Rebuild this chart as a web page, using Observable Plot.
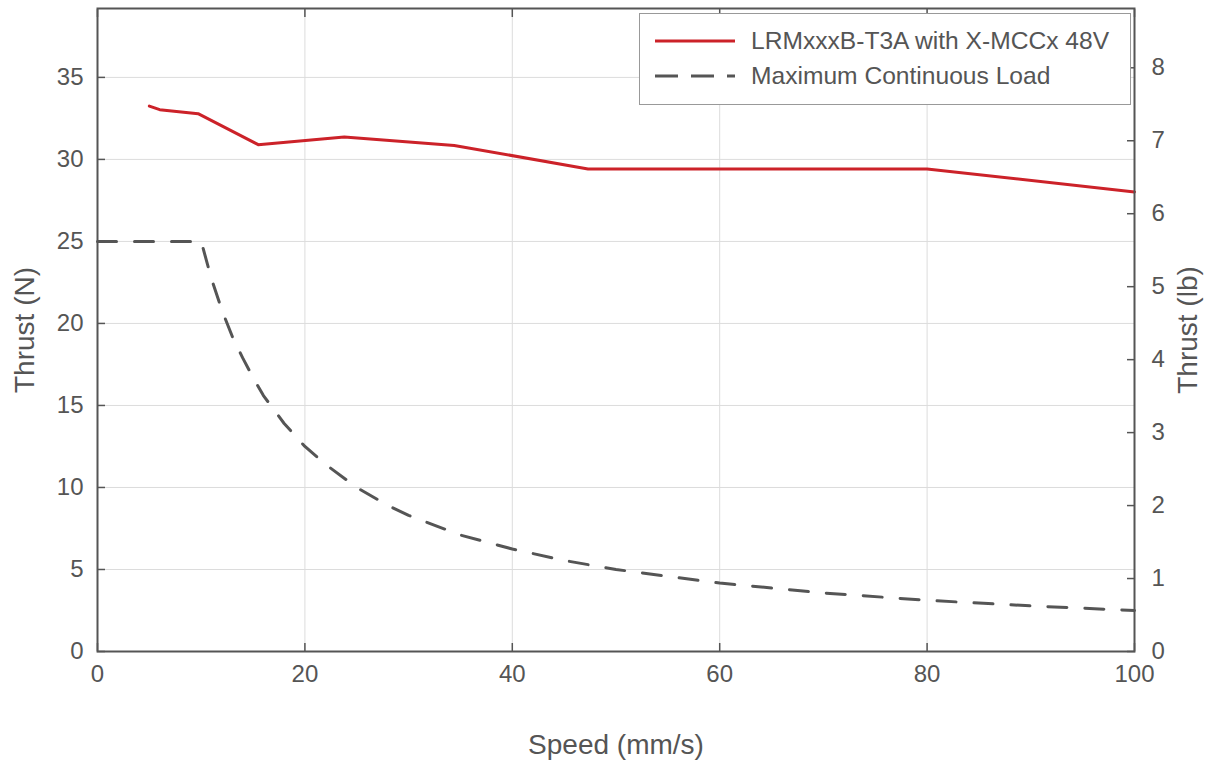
<!DOCTYPE html>
<html>
<head>
<meta charset="utf-8">
<script src="https://cdn.jsdelivr.net/npm/d3@7"></script>
<script src="https://cdn.jsdelivr.net/npm/@observablehq/plot@0.6"></script>
<style>
  html, body { margin: 0; padding: 0; background: #fff; }
  #wrap { position: relative; width: 1214px; height: 767px; font-family: "Liberation Sans", Arial, sans-serif; color: #555; }
  #legend { position: absolute; left: 639px; top: 13px; width: 492px; height: 92px; border: 1.5px solid #999; background: #fff; box-sizing: border-box; }
  .row { position: absolute; left: 0; height: 30px; display: flex; align-items: center; font-size: 24.6px; white-space: nowrap; }
  .row svg { margin-left: 15px; margin-right: 16px; }
</style>
</head>
<body>
<div id="wrap"></div>
<script>
const speedRed = [5, 6, 9.7, 15.5, 23.8, 34.4, 47.3, 80, 100];
const thrustRed = [33.25, 33.03, 32.79, 30.9, 31.36, 30.85, 29.42, 29.42, 28.02];
const speedDash = [0, 10, 11, 12, 13, 14, 15, 16, 18, 20, 22, 25, 28, 30, 35, 40, 45, 50, 60, 70, 80, 90, 100];
const thrustDash = [25, 25, 22.7, 20.8, 19.2, 17.9, 16.7, 15.6, 13.9, 12.5, 11.4, 10, 8.9, 8.3, 7.1, 6.25, 5.55, 5, 4.17, 3.57, 3.12, 2.78, 2.5];
const xTicks = [0, 20, 40, 60, 80, 100];
const yTicks = [0, 5, 10, 15, 20, 25, 30, 35];
const lbTicks = [0, 1, 2, 3, 4, 5, 6, 7, 8];
const N_PER_LB = 4.44822;
const seriesNames = ["LRMxxxB-T3A with X-MCCx 48V", "Maximum Continuous Load"];
const redColor = "#cc2229";
const dashColor = "#555555";

const red = speedRed.map((x, i) => ({x, y: thrustRed[i]}));
const dash = speedDash.map((x, i) => ({x, y: thrustDash[i]}));

const chart = Plot.plot({
  width: 1214,
  height: 767,
  marginLeft: 97,
  marginRight: 80,
  marginTop: 8,
  marginBottom: 116,
  x: {domain: [0, 100]},
  y: {domain: [0, 39.2]},
  style: {fontFamily: "'Liberation Sans', Arial, sans-serif", color: "#555", background: "white", overflow: "visible"},
  marks: [
    Plot.gridY(yTicks.filter(v => v > 0), {stroke: "#dcdcdc", strokeOpacity: 1, strokeWidth: 1}),
    Plot.gridX(xTicks.filter(v => v > 0 && v < 100), {stroke: "#dcdcdc", strokeOpacity: 1, strokeWidth: 1}),
    Plot.line(dash, {x: "x", y: "y", stroke: dashColor, strokeWidth: 3, strokeDasharray: "19,18"}),
    Plot.line(red, {x: "x", y: "y", stroke: redColor, strokeWidth: 3}),
    Plot.axisY({ticks: yTicks, tickSize: 8, dx: 8, tickPadding: 14, fontSize: 24, label: null, stroke: "#555", strokeWidth: 1.5}),
    Plot.axisY({anchor: "right", ticks: lbTicks.map(v => v * N_PER_LB), tickFormat: d => String(Math.round(d / N_PER_LB)), tickSize: 8, dx: -8, tickPadding: 17, fontSize: 24, label: null, stroke: "#555", strokeWidth: 1.5}),
    Plot.axisX({ticks: xTicks, tickSize: 8, dy: -8, tickPadding: 13, fontSize: 24, label: null, stroke: "#555", strokeWidth: 1.5}),
    Plot.axisX({anchor: "top", ticks: xTicks, tickSize: 8, dy: 8, tickFormat: () => "", label: null, stroke: "#555", strokeWidth: 1.5}),
    Plot.frame({stroke: "#555", strokeWidth: 2}),
    Plot.text(["Thrust (N)"], {frameAnchor: "left", dx: -72, rotate: -90, textAnchor: "middle", lineAnchor: "middle", fontSize: 28, fill: "#555"}),
    Plot.text(["Thrust (lb)"], {frameAnchor: "right", dx: 54, rotate: -90, textAnchor: "middle", lineAnchor: "middle", fontSize: 28, fill: "#555"}),
    Plot.text(["Speed (mm/s)"], {frameAnchor: "bottom", dy: 94, textAnchor: "middle", lineAnchor: "middle", fontSize: 28, fill: "#555"})
  ]
});

const wrap = document.getElementById("wrap");
wrap.appendChild(chart);

const legend = document.createElement("div");
legend.id = "legend";
legend.innerHTML = `
  <div class="row" style="top:12px"><svg width="80" height="6"><line x1="0" y1="3" x2="80" y2="3" stroke="${redColor}" stroke-width="3"/></svg><span>${seriesNames[0]}</span></div>
  <div class="row" style="top:47px"><svg width="80" height="6"><line x1="0" y1="3" x2="80" y2="3" stroke="${dashColor}" stroke-width="3" stroke-dasharray="23,13"/></svg><span>${seriesNames[1]}</span></div>
`;
wrap.appendChild(legend);
</script>
</body>
</html>
